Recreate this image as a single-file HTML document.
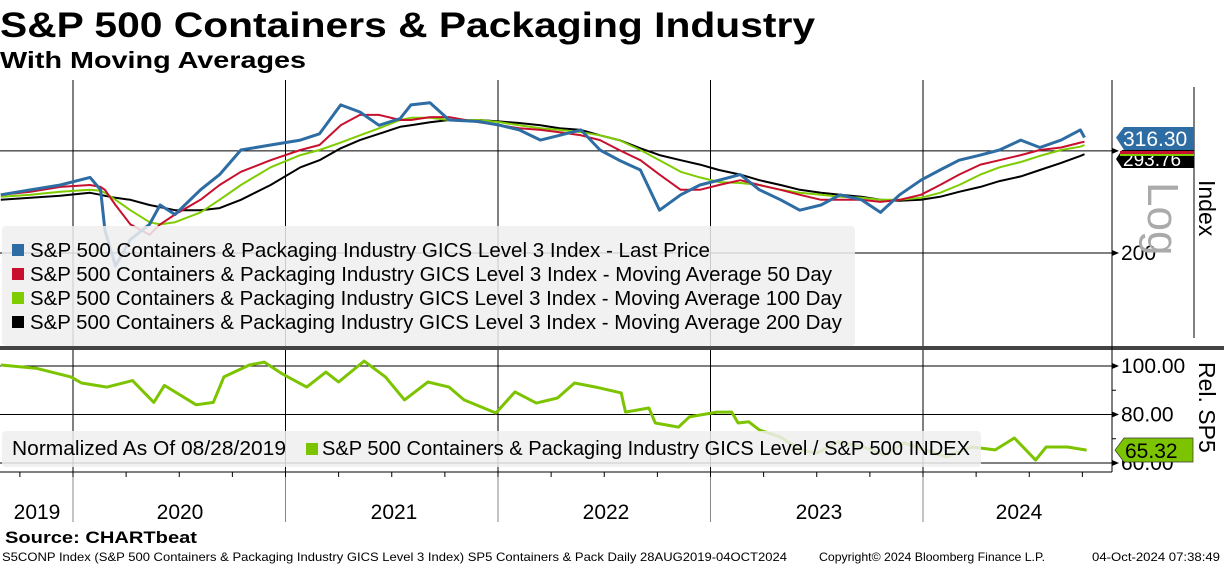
<!DOCTYPE html>
<html><head><meta charset="utf-8">
<style>
body{margin:0;background:#fff;width:1224px;height:566px;overflow:hidden;font-family:"Liberation Sans",Tahoma,sans-serif}
svg{position:absolute;left:0;top:0}
text{font-family:"Liberation Sans",sans-serif}
</style></head><body>
<svg id="chart" width="1224" height="566"></svg>
<script>
const priceDates=[2019.66,2019.80,2019.94,2020.08,2020.13,2020.15,2020.20,2020.27,2020.36,2020.41,2020.48,2020.60,2020.69,2020.79,2020.93,2021.07,2021.16,2021.26,2021.35,2021.44,2021.54,2021.59,2021.68,2021.77,2021.91,2022.01,2022.10,2022.20,2022.29,2022.39,2022.48,2022.57,2022.67,2022.76,2022.86,2022.95,2023.04,2023.14,2023.23,2023.33,2023.42,2023.52,2023.61,2023.71,2023.80,2023.89,2023.99,2024.08,2024.17,2024.27,2024.36,2024.46,2024.55,2024.65,2024.74,2024.76];
const lastPrice=[252,257,262,270,257,219,190,211,224,242,233,257,273,301,307,313,321,360,350,332,341,360,363,339,337,332,326,313,319,326,301,289,278,237,252,262,267,273,257,247,237,242,252,247,235,252,267,278,289,295,301,313,304,313,326,316.3];
const ma50=[252,255,260,262,260,257,242,224,215,224,233,247,262,276,289,301,307,332,346,346,339,339,343,343,336,332,328,326,323,319,313,301,289,273,257,257,262,267,262,257,252,247,247,247,245,247,252,262,273,284,289,295,301,304,310,311];
const ma100=[250,252,255,257,256,254,247,237,226,224,226,235,247,262,281,295,301,310,319,328,339,342,342,339,339,336,332,328,326,323,319,313,301,289,276,270,265,264,262,257,254,252,250,249,247,247,249,254,262,273,281,287,294,301,305,307];
const ma200=[247,249,251,254,252,251,249,247,242,240,237,237,239,247,262,281,289,303,313,321,330,332,336,339,339,337,335,332,328,326,319,313,303,295,289,284,278,273,267,262,257,254,252,250,247,246,247,250,255,260,266,271,278,286,294,296];
const relDates=[2019.66,2019.83,2019.99,2020.04,2020.16,2020.28,2020.38,2020.43,2020.58,2020.66,2020.71,2020.83,2020.90,2020.98,2021.10,2021.19,2021.25,2021.37,2021.47,2021.56,2021.67,2021.77,2021.84,2021.99,2022.08,2022.18,2022.28,2022.36,2022.46,2022.58,2022.60,2022.71,2022.74,2022.85,2022.90,2023.03,2023.10,2023.13,2023.18,2023.23,2023.33,2023.42,2023.50,2023.60,2023.72,2023.82,2023.91,2024.11,2024.23,2024.34,2024.43,2024.53,2024.58,2024.68,2024.77];
const relValues=[100.4,99,95.5,93,91.3,94,85,92,84,85,95.5,100.4,101.6,97,91.3,97.5,93.4,102,95.5,86,93.4,91.3,86,80.6,89.3,84.7,86.8,93,91.3,88.9,81,82.7,76.5,74.8,79,81,81,76.5,77,73.6,70.7,65.4,64.1,68.7,66.6,63.3,68.3,62.5,66.6,65.4,70.3,61.2,66.6,66.6,65.32];
const years=[2020,2021,2022,2023,2024];
const yearLabels=["2019","2020","2021","2022","2023","2024"];
const priceTicks=[200,300];
const relTicks=[100,80,60];

const NS="http://www.w3.org/2000/svg";
const svg=document.getElementById('chart');
function el(tag,attrs,parent){const e=document.createElementNS(NS,tag);for(const k in attrs)e.setAttribute(k,attrs[k]);(parent||svg).appendChild(e);return e;}
const xS=t=>73+(t-2020)*212.5;
const yP=v=>253-252*Math.log(v/200);
const yR=v=>366+(100-v)*2.425;
function fit(e,len){e.setAttribute('textLength',len);e.setAttribute('lengthAdjust','spacingAndGlyphs');}

let t=el('text',{x:0,y:37,'font-size':35,'font-weight':'bold',fill:'#000'});t.textContent='S&P 500 Containers & Packaging Industry';fit(t,815);

t=el('text',{x:0,y:68,'font-size':23,'font-weight':'bold',fill:'#000'});t.textContent='With Moving Averages';fit(t,306);


years.forEach(y=>{
  let l=el('line',{x1:xS(y),x2:xS(y),y1:80,y2:472,stroke:'#000','stroke-width':1});
  
  el('line',{x1:xS(y),x2:xS(y),y1:472,y2:522,stroke:'#888','stroke-width':1});
});
priceTicks.forEach(v=>{
  let l=el('line',{x1:0,x2:1112,y1:yP(v),y2:yP(v),stroke:'#000','stroke-width':1});
  
  el('path',{d:`M1112 ${yP(v)-3}L1119 ${yP(v)}L1112 ${yP(v)+3}Z`,fill:'#000'});
});
relTicks.forEach(v=>{
  let l=el('line',{x1:0,x2:1112,y1:yR(v),y2:yR(v),stroke:'#000','stroke-width':1});
  
  el('path',{d:`M1112 ${yR(v)-3}L1119 ${yR(v)}L1112 ${yR(v)+3}Z`,fill:'#000'});
});
[90,70].forEach(v=>el('line',{x1:1112,x2:1116,y1:yR(v),y2:yR(v),stroke:'#000'}));

function line(dates,vals,ys,color,w,name){
  const d=dates.map((x,i)=>(i?'L':'M')+xS(x).toFixed(1)+' '+ys(vals[i]).toFixed(1)).join('');
  const p=el('path',{d:d,fill:'none',stroke:color,'stroke-width':w,'stroke-linejoin':'round'});
  
}
line(priceDates,ma200,yP,'#000',2,'ma200-line');
line(priceDates,ma100,yP,'#7fcc00',2,'ma100-line');
line(priceDates,ma50,yP,'#c8102e',2,'ma50-line');
line(priceDates,lastPrice,yP,'#2e6ca4',3,'price-line');
line(relDates,relValues,yR,'#7dc400',3,'relative-line');

let g=el('g',{});
el('rect',{x:2,y:226,width:853,height:120,rx:4,fill:'#eeeeee','fill-opacity':0.85},g);
const legItems=[['#2e6ca4','Last Price'],['#c8102e','Moving Average 50 Day'],['#7fcc00','Moving Average 100 Day'],['#000','Moving Average 200 Day']];
const legEnds=[710,832,842,842];
legItems.forEach((it,i)=>{
  const y=250+i*24;
  el('rect',{x:12,y:y-6,width:12,height:12,fill:it[0]},g);
  const tx=el('text',{x:30,y:y+7,'font-size':20,fill:'#000'},g);
  tx.textContent='S&P 500 Containers & Packaging Industry GICS Level 3 Index - '+it[1];fit(tx,legEnds[i]-30);
  
});
g=el('g',{});
el('rect',{x:2,y:431,width:979,height:36,rx:4,fill:'#eeeeee','fill-opacity':0.85},g);
t=el('text',{x:12,y:455,'font-size':20,fill:'#000'},g);t.textContent='Normalized As Of 08/28/2019';fit(t,274);
el('rect',{x:306,y:443,width:12,height:12,fill:'#7dc400'},g);
t=el('text',{x:322,y:455,'font-size':20,fill:'#000'},g);t.textContent='S&P 500 Containers & Packaging Industry GICS Level / S&P 500 INDEX';fit(t,648);


el('rect',{x:0,y:346,width:1224,height:4,fill:'#444'});
el('line',{x1:1112,x2:1112,y1:80,y2:472,stroke:'#000'});
el('line',{x1:1194,x2:1194,y1:87,y2:338,stroke:'#000'});
el('line',{x1:0,x2:1112,y1:472,y2:472,stroke:'#000'});
for(let q=2019.75;q<2024.8;q+=0.25){el('line',{x1:xS(q),x2:xS(q),y1:472,y2:477,stroke:'#000'});}

t=el('text',{x:1121,y:260,'font-size':21,fill:'#000'});t.textContent='200';
[[100,'100.00'],[80,'80.00'],[60,'60.00']].forEach(a=>{t=el('text',{x:1121,y:yR(a[0])+7,'font-size':21,fill:'#000'});t.textContent=a[1];});
t=el('text',{transform:'translate(1199,180) rotate(90)','font-size':23,fill:'#000'});t.textContent='Index';

t=el('text',{transform:'translate(1148,182) rotate(90)','font-size':44,fill:'#aaa'});t.textContent='Log';
t=el('text',{transform:'translate(1199,362) rotate(90)','font-size':23,fill:'#000'});t.textContent='Rel. SP5';

el('path',{d:'M1122 150L1194 150L1194 168L1122 168L1116 159Z',fill:'#000'});
t=el('text',{x:1123,y:166,'font-size':19,fill:'#fff'});t.textContent='293.76';
el('rect',{x:1120,y:151,width:74,height:3,fill:'#c8102e'});
el('rect',{x:1120,y:154,width:74,height:2,fill:'#7fcc00'});
el('path',{d:`M1124 127L1194 127L1194 150L1124 150L1116 ${yP(316.3)}Z`,fill:'#2e6ca4'});
t=el('text',{x:1123,y:146,'font-size':21,fill:'#fff'});t.textContent='316.30';

el('path',{d:`M1124 438L1193 438L1193 462L1124 462L1115 ${yR(65.32)}Z`,fill:'#7dc400',stroke:'#333','stroke-width':0.7});
t=el('text',{x:1125,y:458,'font-size':21,fill:'#000'});t.textContent='65.32';


const yx=[37,180,394,606,819,1019];
yearLabels.forEach((s,i)=>{t=el('text',{x:yx[i],y:519,'font-size':21,fill:'#000','text-anchor':'middle'});t.textContent=s;
});

t=el('text',{x:5,y:543,'font-size':17,'font-weight':'bold',fill:'#000'});t.textContent='Source: CHARTbeat';fit(t,192);

t=el('text',{x:2,y:561,'font-size':12,fill:'#000'});t.textContent='S5CONP Index (S&P 500 Containers & Packaging Industry GICS Level 3 Index) SP5 Containers & Pack  Daily 28AUG2019-04OCT2024';fit(t,785);
t=el('text',{x:819,y:561,'font-size':12,fill:'#000'});t.textContent='Copyright© 2024 Bloomberg Finance L.P.';fit(t,226);
t=el('text',{x:1092,y:561,'font-size':12,fill:'#000'});t.textContent='04-Oct-2024 07:38:49';fit(t,128);
</script>
</body></html>
